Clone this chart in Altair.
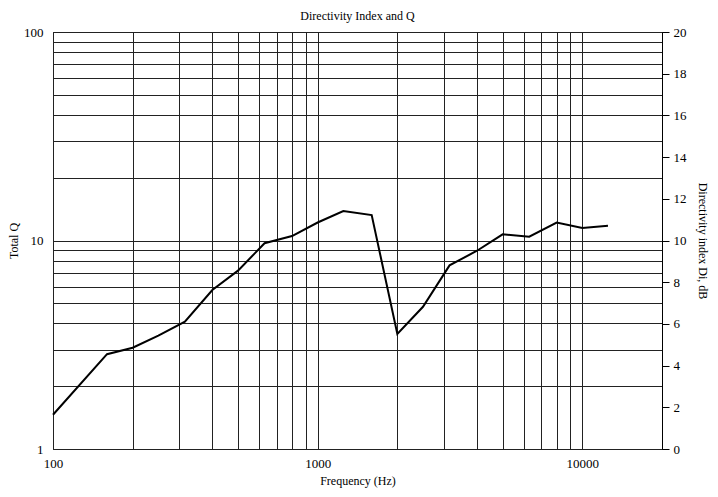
import altair as alt
import pandas as pd

# Data
freq = [100, 160, 200, 250, 315, 400, 500, 630, 800, 1000, 1250, 1600,
        2000, 2500, 3150, 4000, 5000, 6300, 8000, 10000, 12500]
total_q = [1.46, 2.85, 3.06, 3.5, 4.08, 5.79, 7.17, 9.7, 10.5, 12.2, 13.85, 13.25,
           3.56, 4.81, 7.6, 8.93, 10.7, 10.43, 12.2, 11.48, 11.78]

x_grid = [100, 200, 300, 400, 500, 600, 700, 800, 900,
          1000, 2000, 3000, 4000, 5000, 6000, 7000, 8000, 9000, 10000]
q_grid = [1, 2, 3, 4, 5, 6, 7, 8, 9, 10, 20, 30, 40, 50, 60, 70, 80, 90, 100]
x_labels = [100, 1000, 10000]
q_labels = [1, 10, 100]
di_ticks = [0, 2, 4, 6, 8, 10, 12, 14, 16, 18, 20]

FONT = "Liberation Serif"

df = pd.DataFrame({"freq": freq, "q": total_q})
df_di = pd.DataFrame({"freq": [100, 100], "di": [di_ticks[0], di_ticks[-1]]})

x_enc = alt.X(
    "freq:Q",
    scale=alt.Scale(type="log", domain=[100, 20000], nice=False),
    axis=alt.Axis(
        values=x_grid,
        labelExpr="indexof(" + str(x_labels) + ", datum.value) >= 0 ? format(datum.value, 'd') : ''",
        title="Frequency (Hz)",
        ticks=False,
        domain=False,
        grid=True,
        gridColor="#222222",
        gridWidth=1,
        labelPadding=8,
        titlePadding=5,
        labelFlush=False,
        labelOverlap=False,
    ),
)

line = alt.Chart(df).mark_line(color="black", strokeWidth=2).encode(
    x=x_enc,
    y=alt.Y(
        "q:Q",
        scale=alt.Scale(type="log", domain=[1, 100], nice=False),
        axis=alt.Axis(
            values=q_grid,
            labelExpr="indexof(" + str(q_labels) + ", datum.value) >= 0 ? format(datum.value, 'd') : ''",
            title="Total Q",
            orient="left",
            ticks=False,
            domain=False,
            grid=True,
            gridColor="#222222",
            gridWidth=1,
            labelPadding=10,
            titlePadding=3,
            labelOverlap=False,
            labelFlush=False,
        ),
    ),
)

right = alt.Chart(df_di).mark_point(opacity=0).encode(
    x=alt.X("freq:Q", scale=alt.Scale(type="log", domain=[100, 20000], nice=False)),
    y=alt.Y(
        "di:Q",
        scale=alt.Scale(domain=[0, 20], nice=False),
        axis=alt.Axis(
            values=di_ticks,
            title="Directivity index Di, dB",
            orient="right",
            grid=False,
            ticks=True,
            tickSize=7,
            tickColor="black",
            domain=True,
            domainColor="black",
            labelPadding=4,
            titlePadding=9,
            labelFlush=False,
        ),
    ),
)

chart = (
    alt.layer(line, right)
    .resolve_scale(y="independent")
    .properties(
        width=609,
        height=417,
        title=alt.TitleParams("Directivity Index and Q", font=FONT, fontSize=12,
                              fontWeight="normal", color="black", offset=3),
        autosize=alt.AutoSizeParams(type="none"),
        padding={"left": 45, "top": 24, "right": 48, "bottom": 40},
    )
    .configure_view(stroke="black", strokeWidth=1)
    .configure_axis(
        labelFont=FONT,
        titleFont=FONT,
        labelFontSize=13,
        titleFontSize=12,
        titleFontWeight="normal",
        labelColor="black",
        titleColor="black",
    )
)

chart.save("out.html", embed_options={"renderer": "svg", "actions": False})
